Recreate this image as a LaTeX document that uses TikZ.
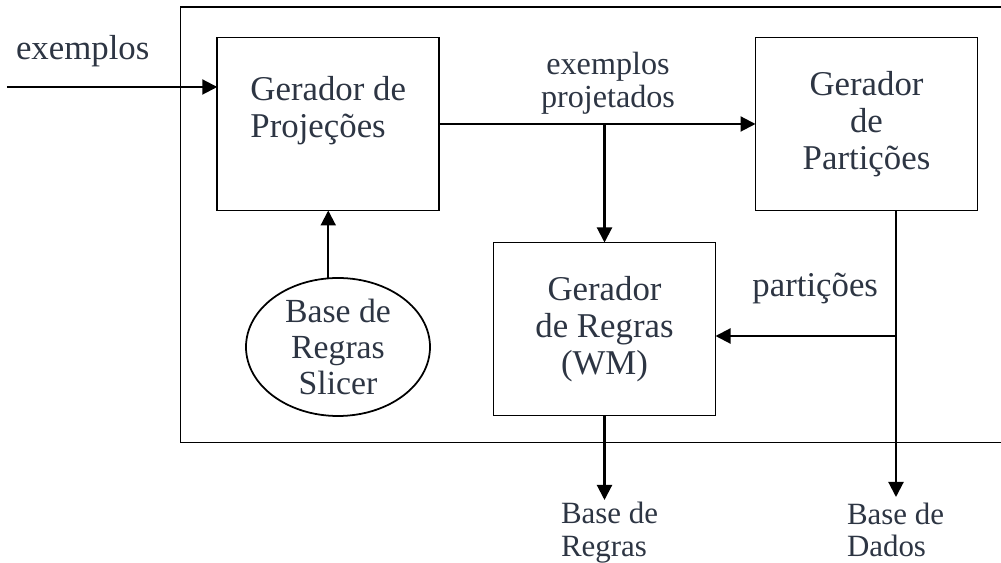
\documentclass[tikz,border=0pt]{standalone}
\usepackage{fontspec}
\setmainfont{Liberation Serif}
\usepackage{xcolor}
\usetikzlibrary{arrows.meta, shapes.geometric, positioning, calc}
\definecolor{inktext}{HTML}{2D3543}
\tikzset{
    block/.style={
        rectangle, draw=black, line width=1pt, text=inktext, align=center,
        minimum width=4.44cm, minimum height=3.46cm, inner sep=0pt, outer sep=0pt,
        font=\fontsize{19.8}{21}\selectfont
    },
    dbase/.style={
        ellipse, draw=black, line width=1pt, text=inktext, align=center,
        minimum width=3.68cm, minimum height=2.76cm, inner sep=0pt, outer sep=0pt,
        font=\fontsize{19.2}{20.6}\selectfont
    },
    flowlabel/.style={
        text=inktext, inner sep=0pt, outer sep=0pt, align=center,
        font=\fontsize{19.8}{21}\selectfont
    },
    smalllabel/.style={
        flowlabel, font=\fontsize{18.3}{18.8}\selectfont
    },
    baselabel/.style={
        flowlabel, align=left, font=\fontsize{17.6}{18.4}\selectfont
    },
    frame/.style={
        draw=black, line width=1pt
    },
    arrow/.style={
        -{Triangle[length=0.3cm, width=0.3cm]}, line width=1.2pt, draw=black
    }
}

\begin{document}
\begin{tikzpicture}[node distance=0.5cm]
    \useasboundingbox (0,0) rectangle (20.02,11.26);
    % outer frame, open on the right side
    \draw[frame] (20.02,11.12) -- (3.61,11.12) -- (3.61,2.41) -- (20.02,2.41);

    % blocks
    \node[block, align=left, text depth=0.7cm] (proj) at (6.565,8.78) {Gerador de\\Projeções};
    \node[block] (part) at (17.33,8.78) {Gerador\\de\\Partições};
    \node[block] (regras) at (12.09,4.68) {Gerador\\de Regras\\(WM)};
    \node[dbase] (slicer) at (6.76,4.32) {Base de\\Regras\\Slicer};

    % input
    \coordinate (src) at (0.14,9.52);
    \draw[arrow] (src) -- (src -| proj.west);
    \node[flowlabel, anchor=base west] (inlbl) at (0.32,10.06) {exemplos};

    % projected examples
    \draw[arrow] (proj) -- (part);
    \coordinate (fork) at (proj.east -| regras.north);
    \draw[arrow] (fork) -- (regras.north);
    \node[smalllabel, above=0.2cm of fork, xshift=0.07cm] (projlbl) {exemplos\\projetados};

    \draw[arrow] (slicer.north -| proj.south) -- (proj.south);

    % partitions
    \coordinate (split) at (17.92,4.54);
    \coordinate (dados) at (17.92,1.32);
    \draw[arrow] (part.south -| split) -- (dados);
    \draw[arrow] (split) -- (split -| regras.east);
    \node[flowlabel, above left=0.64cm and 0.36cm of split] (partlbl) {partições};

    % outputs
    \coordinate (regout) at (regras.south |- dados);
    \draw[arrow] (regras.south) -- ($(regout)+(0,-0.06)$);
    \node[baselabel, anchor=north west] (rbase) at ($(regout)+(-0.87,-0.11)$) {Base de\\Regras};
    \node[baselabel, anchor=north west] (dbasel) at ($(dados)+(-0.98,-0.12)$) {Base de\\Dados};
\end{tikzpicture}
\end{document}
